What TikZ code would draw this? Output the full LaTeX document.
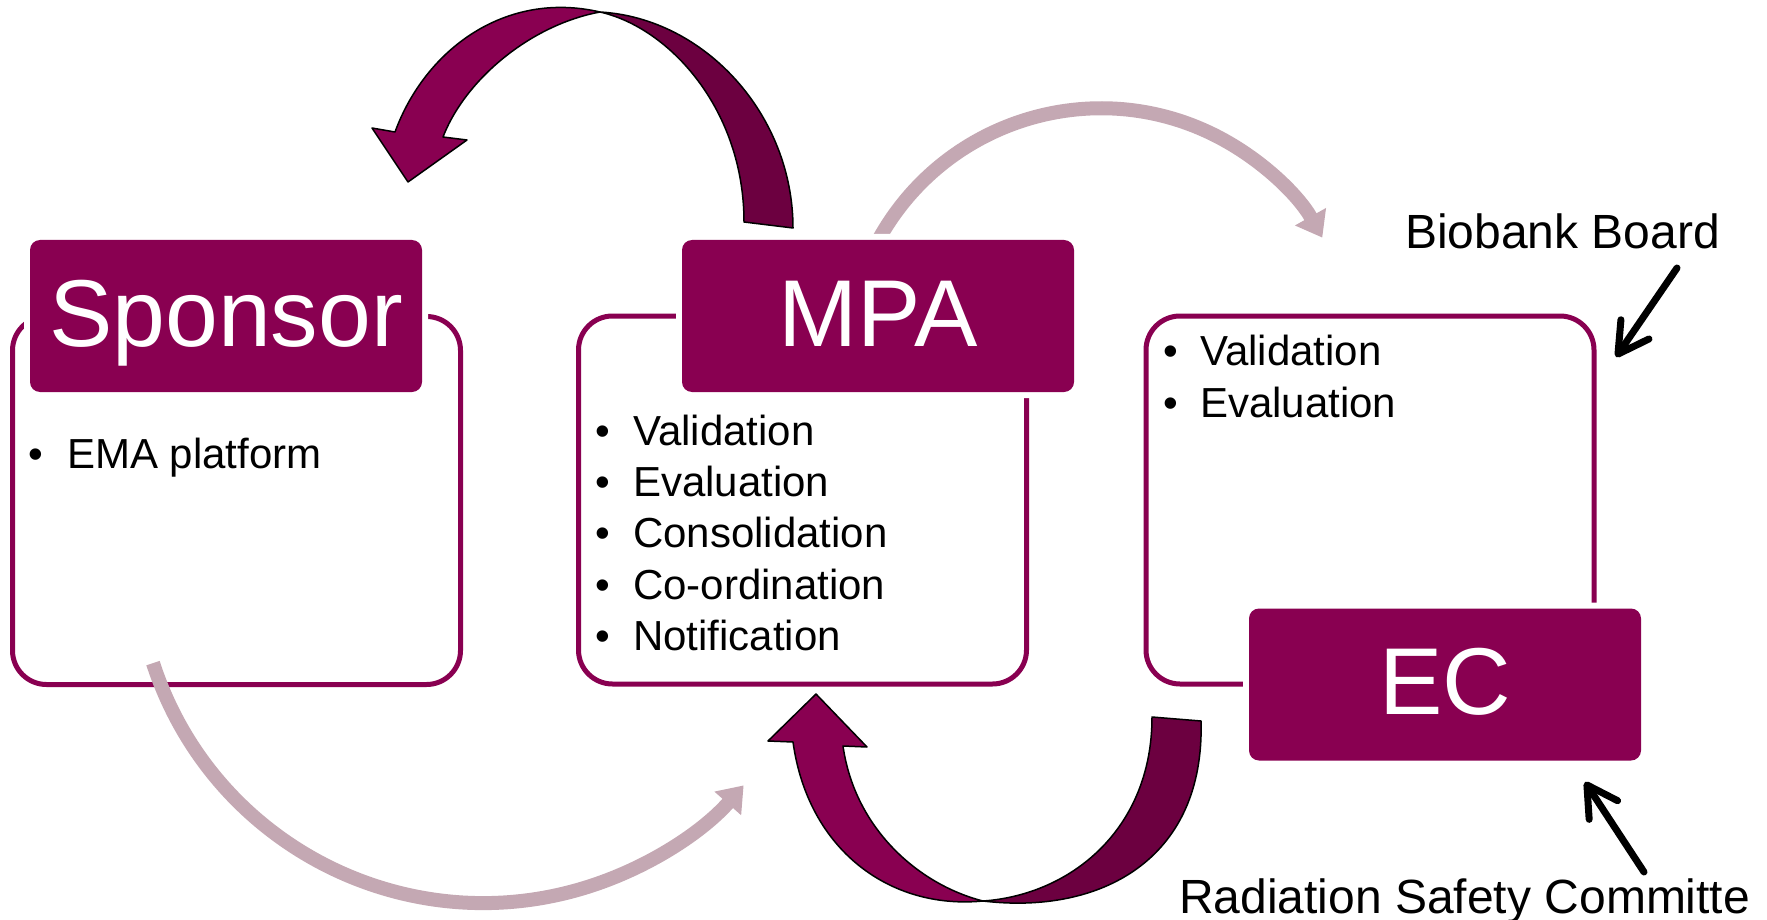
\documentclass[tikz,border=0pt]{standalone}
\usepackage{fontspec}
\setmainfont{Liberation Sans}
\usetikzlibrary{arrows.meta,calc}
\definecolor{plum}{RGB}{137,0,81}
\definecolor{plumdark}{RGB}{108,0,64}
\definecolor{mauve}{RGB}{196,168,179}

\begin{document}
\begin{tikzpicture}[x=1pt,y=-1pt,
  panel/.style={draw=plum, line width=5pt, rounded corners=34pt, fill=white,
    minimum width=448pt, minimum height=368pt, inner sep=0pt},
  header/.style={fill=plum, rounded corners=10pt, minimum width=392pt,
    minimum height=152pt, inner sep=0pt, text=white,
    font=\fontsize{95}{100}\selectfont, text height=60pt, text depth=0pt,
    preaction={draw=white, line width=12pt}},
  item/.style={anchor=base west, inner sep=0pt, font=\fontsize{42}{50}\selectfont},
  tag/.style={anchor=base west, inner sep=0pt, font=\fontsize{48}{56}\selectfont},
  flow/.style={draw=mauve, line width=14pt, -{Triangle[length=24pt,width=34pt]}},
  band/.style={draw=black, line width=1.5pt, line join=round},
  pointer/.style={draw=black, line width=7pt, line cap=round,
    -{Straight Barb[length=30pt,width=34pt,line cap=round,line join=round]}}
]
\useasboundingbox (0,0) rectangle (1767,920);
\fill[white] (0,0) rectangle (1767,920);

% outlined panels
\node[panel] (sp-panel)  at (236.5,500.5) {};
\node[panel] (mpa-panel) at (802.5,500) {};
\node[panel] (ec-panel)  at (1370,500) {};

% light flow arcs
\coordinate (arc-top) at (1101,362.3);
\coordinate (arc-low) at (483.2,555.8);
\draw[flow] ($(arc-top)+(208:254)$) arc[start angle=208, end angle=330.6, radius=254];
\draw[flow] ($(arc-low)+(162:347.2)$) arc[start angle=162, end angle=41.4, radius=347.2];

% title blocks
\node[header] (sp)  at (226,316)    {Sponsor};
\node[header] (mpa) at (878,316)    {MPA};
\node[header] (ec)  at (1445,684.5) {EC};

% upper twisted arrow (MPA -> Sponsor)
\filldraw[band, fill=plumdark] (600,12) .. controls (705,18) and (793,115) .. (793,228)
  -- (744,222) .. controls (744,110) and (670,28) .. (600,12) -- cycle;
\filldraw[band, fill=plum] (395,132) -- (372,128) -- (408,182) -- (467,140) -- (443,137)
  .. controls (465,80) and (530,25) .. (600,12)
  .. controls (505,-10) and (425,50) .. (395,132) -- cycle;

% lower twisted arrow (EC -> MPA)
\filldraw[band, fill=plumdark] (983,901) .. controls (1100,915) and (1205,860) .. (1201,721)
  -- (1152,717) .. controls (1152,830) and (1070,895) .. (983,901) -- cycle;
\filldraw[band, fill=plum] (793,742) -- (768,741) -- (816,694) -- (867,747) -- (843,746)
  .. controls (855,830) and (920,885) .. (983,901)
  .. controls (890,910) and (808,850) .. (793,742) -- cycle;

% bullet lists
\node[item] (sp-1) at (28,468) {\makebox[39pt][l]{•}EMA platform};

\foreach \txt/\yy [count=\i] in {Validation/445, Evaluation/496.5, Consolidation/547.5,
    Co-ordination/599, Notification/650}
  \node[item] (mpa-\i) at (595,\yy) {\makebox[38pt][l]{•}\txt};

\node[item] (ec-1) at (1163,365) {\makebox[37pt][l]{•}Validation};
\node[item] (ec-2) at (1163,417) {\makebox[37pt][l]{•}Evaluation};

% side labels with pointers
\node[tag] (biobank) at (1405,248) {Biobank Board};
\node[tag] (rsc) at (1179,913) {Radiation Safety Committe};
\coordinate (bb-from) at (1677,268);
\coordinate (bb-to) at (1616,357);
\draw[pointer] (bb-from) -- (bb-to);
\coordinate (rsc-from) at (1644,872);
\coordinate (rsc-to) at (1585,782);
\draw[pointer] (rsc-from) -- (rsc-to);
\end{tikzpicture}
\end{document}
